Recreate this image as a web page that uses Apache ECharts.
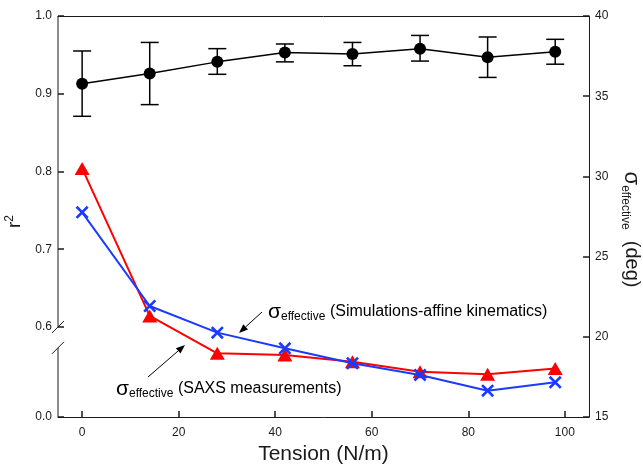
<!DOCTYPE html>
<html>
<head>
<meta charset="utf-8">
<script src="https://cdn.jsdelivr.net/npm/echarts@6/dist/echarts.min.js"></script>
<style>
  html, body { margin: 0; padding: 0; background: #fff; }
  #chart { width: 643px; height: 464px; }
</style>
</head>
<body>
<div id="chart"></div>
<script>
// Tension applied to the film (N/m)
const tension = [0, 14, 28, 42, 56, 70, 84, 98];

// Goodness of fit r² (left axis), mean with error-bar limits
const r2Mean  = [0.913, 0.926, 0.941, 0.953, 0.951, 0.958, 0.947, 0.954];
const r2Upper = [0.955, 0.966, 0.958, 0.964, 0.966, 0.975, 0.973, 0.970];
const r2Lower = [0.871, 0.886, 0.925, 0.941, 0.936, 0.942, 0.921, 0.938];

// Effective orientation spread σ_effective (deg, right axis)
const sigmaSAXS = [30.5, 21.3, 18.97, 18.87, 18.45, 17.82, 17.66, 18.03];
const sigmaSim  = [27.76, 21.92, 20.26, 19.28, 18.35, 17.62, 16.64, 17.16];

// Tick values
const xTicks = [0, 20, 40, 60, 80, 100];
const r2Ticks = [0.0, 0.6, 0.7, 0.8, 0.9, 1.0];
const sigmaTicks = [15, 20, 25, 30, 35, 40];

const FONT = '"Liberation Sans", Arial, sans-serif';
const INK = '#1a1a1a';
const RED = '#ff0000';
const BLUE = '#1a3aff';

// Break in the r² axis between the bottom stub and 0.6
const r2BreakStart = 0.089;
const r2BreakEnd = 0.6;

// Bold "X" marker as a filled outline
const X_MARK = 'path://M0,2 L2,0 L7,5 L12,0 L14,2 L9,7 L14,12 L12,14 L7,9 L2,14 L0,12 L5,7 Z';

const chart = echarts.init(document.getElementById('chart'), null, { renderer: 'canvas' });

const tickLine = { color: INK, width: 1.5 };
const labelStyle = { color: INK, fontSize: 12, fontFamily: FONT };

const option = {
  animation: false,
  backgroundColor: '#fff',
  grid: { left: 58, right: 54, top: 16, bottom: 47, containLabel: false, outerBoundsMode: 'none' },
  xAxis: [
    {
      type: 'value', min: -5, max: 105,
      axisLine: { show: true, onZero: false, lineStyle: { color: INK, width: 1 } },
      axisTick: { show: true, inside: true, length: 6, customValues: xTicks, lineStyle: tickLine },
      axisLabel: Object.assign({ customValues: xTicks, margin: 10 }, labelStyle),
      splitLine: { show: false },
      name: 'Tension (N/m)', nameLocation: 'middle', nameGap: 22,
      nameTextStyle: { fontSize: 21, color: INK, fontFamily: FONT }
    },
    {
      type: 'value', min: -5, max: 105, position: 'top',
      axisLine: { show: true, onZero: false, lineStyle: { color: INK, width: 1 } },
      axisTick: { show: false }, axisLabel: { show: false }, splitLine: { show: false }
    }
  ],
  yAxis: [
    {
      type: 'value', min: 0, max: 1.0, position: 'left',
      breaks: [{ start: r2BreakStart, end: r2BreakEnd, gap: '5.2%' }],
      breakArea: { show: false },
      axisLine: { show: false, onZero: false },
      axisTick: { show: true, inside: true, length: 6, customValues: r2Ticks, lineStyle: tickLine },
      axisLabel: Object.assign({ customValues: r2Ticks, margin: 6,
        formatter: v => v.toFixed(1) }, labelStyle),
      splitLine: { show: false },
      name: '{r|r}{sup|2}', nameLocation: 'middle', nameRotate: 90, nameGap: 23,
      nameTextStyle: {
        color: INK, fontFamily: FONT, padding: [0, 10, 0, 0],
        rich: {
          r: { fontSize: 19, color: INK, fontFamily: FONT, verticalAlign: 'middle' },
          sup: { fontSize: 12, color: INK, fontFamily: FONT, verticalAlign: 'middle', padding: [0, 0, 10, 0] }
        }
      }
    },
    {
      type: 'value', min: 15, max: 40, interval: 5, position: 'right',
      axisLine: { show: true, onZero: false, lineStyle: { color: INK, width: 1 } },
      axisTick: { show: true, inside: true, length: 6, lineStyle: tickLine },
      axisLabel: Object.assign({ margin: 6 }, labelStyle),
      splitLine: { show: false },
      name: '{s|σ}{e|effective}{d|  (deg)}', nameLocation: 'middle', nameRotate: -90, nameGap: 30,
      nameTextStyle: {
        color: INK, fontFamily: FONT, padding: [0, 0, 0, 26],
        rich: {
          s: { fontSize: 22, color: INK, fontFamily: FONT, verticalAlign: 'middle' },
          e: { fontSize: 12, color: INK, fontFamily: FONT, verticalAlign: 'middle', padding: [12, 0, 0, 0] },
          d: { fontSize: 20, color: INK, fontFamily: FONT, verticalAlign: 'middle' }
        }
      }
    }
  ],
  series: [
    {
      name: 'r2 error',
      type: 'custom', xAxisIndex: 0, yAxisIndex: 0, z: 3,
      data: tension.map((t, i) => [t, r2Lower[i], r2Upper[i]]),
      encode: { x: 0, y: [1, 2] },
      renderItem(params, api) {
        const x = api.value(0);
        const lo = api.coord([x, api.value(1)]);
        const hi = api.coord([x, api.value(2)]);
        const w = 9;
        const st = { stroke: '#000', lineWidth: 1.5 };
        return {
          type: 'group',
          children: [
            { type: 'line', shape: { x1: lo[0], y1: lo[1], x2: hi[0], y2: hi[1] }, style: st },
            { type: 'line', shape: { x1: lo[0] - w, y1: lo[1], x2: lo[0] + w, y2: lo[1] }, style: st },
            { type: 'line', shape: { x1: hi[0] - w, y1: hi[1], x2: hi[0] + w, y2: hi[1] }, style: st }
          ]
        };
      }
    },
    {
      name: 'r2',
      type: 'line', xAxisIndex: 0, yAxisIndex: 0, z: 4,
      data: tension.map((t, i) => [t, r2Mean[i]]),
      symbol: 'circle', symbolSize: 12,
      lineStyle: { color: '#000', width: 1.5 },
      itemStyle: { color: '#000' }
    },
    {
      name: 'SAXS',
      type: 'line', xAxisIndex: 0, yAxisIndex: 1, z: 5,
      data: tension.map((t, i) => [t, sigmaSAXS[i]]),
      symbol: 'triangle', symbolSize: [15, 13],
      lineStyle: { color: RED, width: 2 },
      itemStyle: { color: RED }
    },
    {
      name: 'Simulation',
      type: 'line', xAxisIndex: 0, yAxisIndex: 1, z: 6,
      data: tension.map((t, i) => [t, sigmaSim[i]]),
      symbol: X_MARK, symbolSize: 13,
      lineStyle: { color: BLUE, width: 2 },
      itemStyle: { color: BLUE }
    }
  ]
};

chart.setOption(option);

// Arrow helper: shaft plus filled head pointing at (x2, y2)
function arrow(x1, y1, x2, y2) {
  const a = Math.atan2(y2 - y1, x2 - x1);
  const L = 9, W = 3.5;
  const bx = x2 - L * Math.cos(a), by = y2 - L * Math.sin(a);
  const nx = -Math.sin(a) * W, ny = Math.cos(a) * W;
  return [
    { type: 'line', shape: { x1, y1, x2: bx, y2: by }, style: { stroke: '#000', lineWidth: 1 } },
    { type: 'polygon', shape: { points: [[x2, y2], [bx + nx, by + ny], [bx - nx, by - ny]] }, style: { fill: '#000' } }
  ];
}

// Left axis line drawn in two pieces with "//" marks across the break
const axX = chart.convertToPixel({ xAxisIndex: 0 }, -5);
const yTop = chart.convertToPixel({ yAxisIndex: 0 }, 1.0);
const yUp = chart.convertToPixel({ yAxisIndex: 0 }, r2BreakEnd);
const yLow = chart.convertToPixel({ yAxisIndex: 0 }, r2BreakStart);
const yBot = chart.convertToPixel({ yAxisIndex: 0 }, 0);
const axisSt = { stroke: INK, lineWidth: 1 };
const s = 6;

const annRich = {
  s: { fontSize: 21, fontFamily: FONT, color: INK, verticalAlign: 'middle' },
  e: { fontSize: 12, fontFamily: FONT, color: INK, verticalAlign: 'middle', padding: [9, 0, 0, 0] },
  t: { fontSize: 16, fontFamily: FONT, color: INK, verticalAlign: 'middle' }
};

chart.setOption({
  graphic: [
    { type: 'line', shape: { x1: axX, y1: yTop, x2: axX, y2: yUp }, style: axisSt },
    { type: 'line', shape: { x1: axX - s, y1: yUp + s, x2: axX + s, y2: yUp - s }, style: axisSt },
    { type: 'line', shape: { x1: axX - s, y1: yLow + s, x2: axX + s, y2: yLow - s }, style: axisSt },
    { type: 'line', shape: { x1: axX, y1: yLow, x2: axX, y2: yBot }, style: axisSt },
    {
      type: 'text', x: 268, y: 312,
      style: { text: '{s|σ}{e|effective}{t| (Simulations-affine kinematics)}', rich: annRich, verticalAlign: 'middle' }
    },
    {
      type: 'text', x: 116, y: 389,
      style: { text: '{s|σ}{e|effective}{t| (SAXS measurements)}', rich: annRich, verticalAlign: 'middle' }
    },
    ...arrow(262, 312, 239, 333),
    ...arrow(148, 377, 185, 345)
  ]
});
</script>
</body>
</html>
